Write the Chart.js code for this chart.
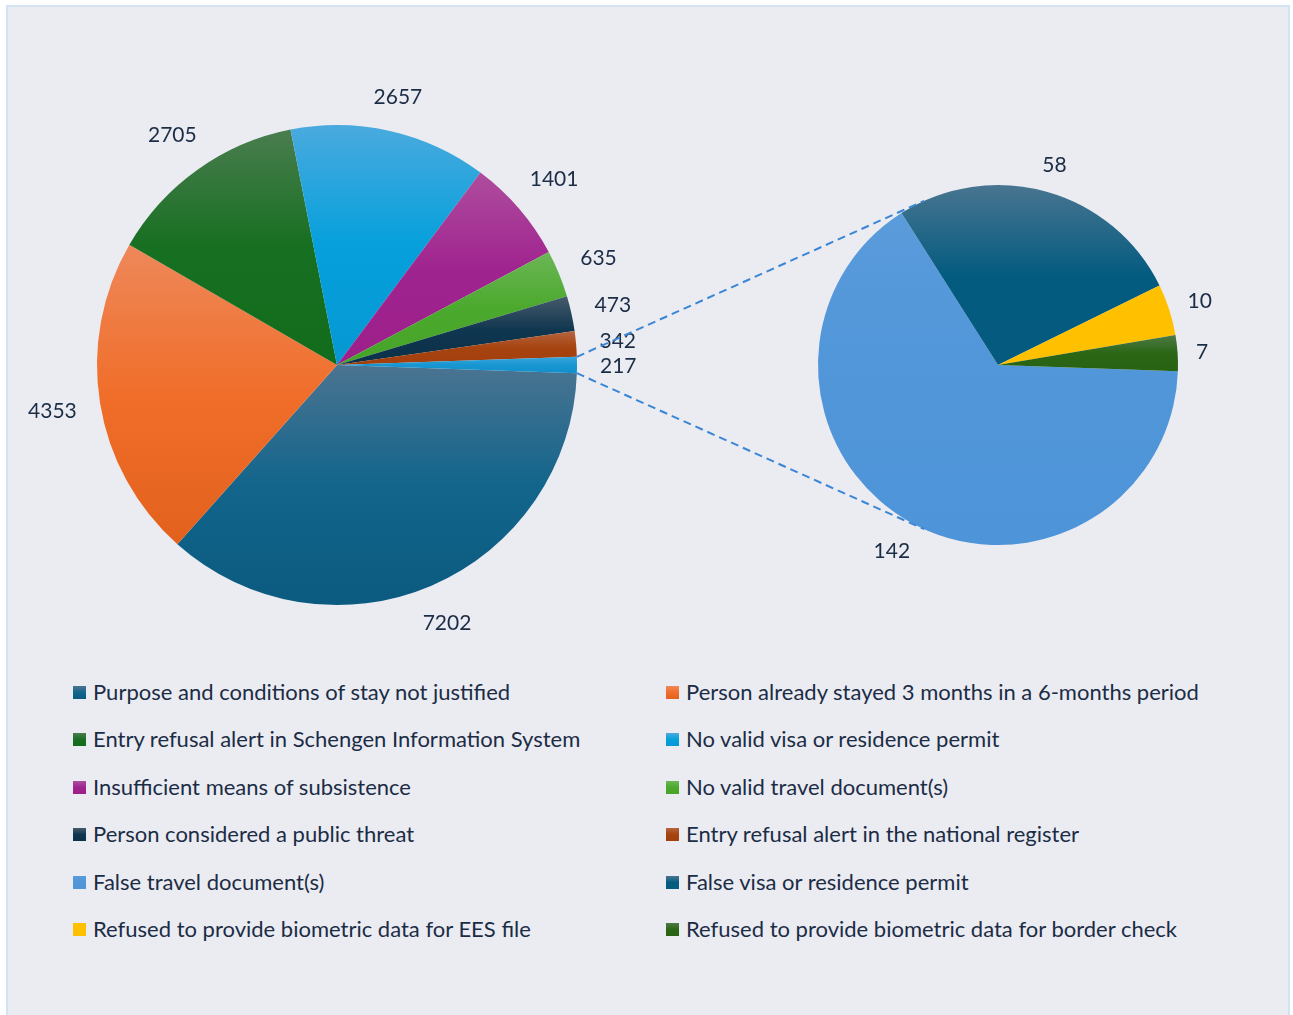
<!DOCTYPE html>
<html><head><meta charset="utf-8">
<script src="https://cdn.jsdelivr.net/npm/chart.js@4.4.1/dist/chart.umd.min.js"></script>
<style>
html,body{margin:0;padding:0;background:#ffffff;width:1293px;height:1015px;overflow:hidden;}
#frame{position:absolute;left:6px;top:5px;width:1284px;height:1010px;border:2px solid #d3e3f5;border-bottom:none;background:#EBEBF2;box-sizing:border-box;}
canvas{position:absolute;left:0;top:0;}
.leg{position:absolute;font-family:Lato,"Open Sans",sans-serif;font-size:22px;color:#1b2d45;white-space:nowrap;line-height:24px;height:24px;}
.leg i{position:absolute;left:0;top:6px;width:13px;height:13px;}
.leg span{position:absolute;top:0;}
</style></head>
<body>
<div id="frame"></div>
<canvas id="c1" width="1293" height="660"></canvas>
<canvas id="c2" width="1293" height="660"></canvas>
<div id="legend"></div>
<script>
// ---- data ----
const mainLabels = [
  'Purpose and conditions of stay not justified',
  'Person already stayed 3 months in a 6-months period',
  'Entry refusal alert in Schengen Information System',
  'No valid visa or residence permit',
  'Insufficient means of subsistence',
  'No valid travel document(s)',
  'Person considered a public threat',
  'Entry refusal alert in the national register',
  'Other'
];
const mainValues = [7202, 4353, 2705, 2657, 1401, 635, 473, 342, 217];
const subLabels = [
  'False travel document(s)',
  'False visa or residence permit',
  'Refused to provide biometric data for EES file',
  'Refused to provide biometric data for border check'
];
const subValues = [142, 58, 10, 7];

// ---- styles (gradient top / middle / bottom) ----
const mainColors = [
  ['#4b7491','#13658c','#0b5a7f'],
  ['#ee885a','#f06e2a','#e2611c'],
  ['#4a7d4f','#176f21','#136b1c'],
  ['#4aaade','#06a0dc','#0598d3'],
  ['#ae4d9e','#a0248f','#9c1f8a'],
  ['#6cb656','#4ba92d','#47a42a'],
  ['#465a6b','#0f364f','#0b3149'],
  ['#b5643f','#a6430f','#a23f0c'],
  ['#3aa6dc','#1796d2','#1290cc']
];
const subColors = [
  ['#5a9bdb','#5096d9','#4e94d8'],
  ['#487590','#045b80','#045a7f'],
  ['#ffc000','#ffc000','#ffc000'],
  ['#4e7a47','#2b6615','#286213']
];
const textColor = '#1b2d45';
const fontFamily = 'Lato, "Open Sans", sans-serif';

const rad = d => d * Math.PI / 180;

function sliceGradient(palette, rotationDeg) {
  return function (ctx) {
    const chart = ctx.chart, area = chart.chartArea;
    const p = palette[ctx.dataIndex];
    if (!area) return p[1];
    const vals = ctx.dataset.data;
    const total = vals.reduce((a, b) => a + b, 0);
    let start = rotationDeg - 90;
    for (let i = 0; i < ctx.dataIndex; i++) start += vals[i] / total * 360;
    const end = start + vals[ctx.dataIndex] / total * 360;
    const cy = (area.top + area.bottom) / 2;
    const r = Math.min(area.width, area.height) / 2;
    const ys = [cy, cy + r * Math.sin(rad(start)), cy + r * Math.sin(rad(end))];
    for (let k = -2; k <= 6; k++) {
      const a = 90 + 180 * k;
      if (a >= start && a <= end) ys.push(cy + r * Math.sin(rad(a)));
    }
    const minY = Math.min(...ys), maxY = Math.max(...ys);
    const g = chart.ctx.createLinearGradient(0, minY, 0, Math.max(maxY, minY + 1));
    g.addColorStop(0, p[0]);
    g.addColorStop(0.5, p[1]);
    g.addColorStop(1, p[2]);
    return g;
  };
}

const valueLabels = {
  id: 'valueLabels',
  afterDatasetsDraw(chart, args, opts) {
    const ctx = chart.ctx;
    const meta = chart.getDatasetMeta(0);
    const vals = chart.data.datasets[0].data;
    ctx.save();
    ctx.font = '21px ' + fontFamily;
    ctx.fillStyle = textColor;
    ctx.textAlign = 'center';
    ctx.textBaseline = 'middle';
    meta.data.forEach((arc, i) => {
      const pr = arc.getProps(['x', 'y', 'startAngle', 'endAngle', 'outerRadius'], true);
      const mid = (pr.startAngle + pr.endAngle) / 2;
      const txt = String(vals[i]);
      const w = ctx.measureText(txt).width, h = 15;
      const d = pr.outerRadius + opts.gap + Math.abs(Math.cos(mid)) * w / 2 + Math.abs(Math.sin(mid)) * h / 2;
      ctx.fillText(txt, pr.x + d * Math.cos(mid), pr.y + d * Math.sin(mid) + 1);
    });
    ctx.restore();
  }
};

const mainRotation = 90 + (mainValues[mainValues.length - 1] / mainValues.reduce((a, b) => a + b, 0) * 360) / 2;
const subRotation = 92;

const chart1 = new Chart(document.getElementById('c1'), {
  type: 'pie',
  data: {
    labels: mainLabels,
    datasets: [{ data: mainValues, backgroundColor: sliceGradient(mainColors, mainRotation), borderWidth: 0 }]
  },
  options: {
    responsive: false, animation: false, rotation: mainRotation,
    layout: { padding: { left: 97, right: 716, top: 125, bottom: 55 } },
    plugins: { legend: { display: false }, tooltip: { enabled: false }, valueLabels: { gap: 23 } }
  },
  plugins: [valueLabels]
});

const connector = {
  id: 'connector',
  afterDraw(chart) {
    const m1 = chart1.getDatasetMeta(0);
    const other = m1.data[m1.data.length - 1].getProps(['x', 'y', 'startAngle', 'endAngle', 'outerRadius'], true);
    const c2 = chart.getDatasetMeta(0).data[0].getProps(['x', 'y', 'outerRadius'], true);
    const ctx = chart.ctx;
    const pts = [other.startAngle, other.endAngle].map(a => [other.x + other.outerRadius * Math.cos(a), other.y + other.outerRadius * Math.sin(a)]);
    ctx.save();
    ctx.strokeStyle = '#3a86d6';
    ctx.lineWidth = 2;
    ctx.setLineDash([8, 5]);
    pts.forEach((P, idx) => {
      const dx = P[0] - c2.x, dy = P[1] - c2.y;
      const d = Math.hypot(dx, dy);
      const phi = Math.atan2(dy, dx);
      const th = Math.acos(c2.outerRadius / d);
      const cands = [phi + th, phi - th].map(a => [c2.x + c2.outerRadius * Math.cos(a), c2.y + c2.outerRadius * Math.sin(a)]);
      cands.sort((a, b) => a[1] - b[1]);
      const T = idx === 0 ? cands[0] : cands[1];
      ctx.beginPath();
      ctx.moveTo(P[0], P[1]);
      ctx.lineTo(T[0], T[1]);
      ctx.stroke();
    });
    ctx.restore();
  }
};

const chart2 = new Chart(document.getElementById('c2'), {
  type: 'pie',
  data: {
    labels: subLabels,
    datasets: [{ data: subValues, backgroundColor: sliceGradient(subColors, subRotation), borderWidth: 0 }]
  },
  options: {
    responsive: false, animation: false, rotation: subRotation,
    layout: { padding: { left: 818, right: 115, top: 185, bottom: 115 } },
    plugins: { legend: { display: false }, tooltip: { enabled: false }, valueLabels: { gap: 18 } }
  },
  plugins: [valueLabels, connector]
});
chart2.draw();

// ---- HTML legend built from the arrays ----
const legendNames = mainLabels.slice(0, mainLabels.length - 1).concat(subLabels);
const legendColors = mainColors.slice(0, mainColors.length - 1).concat(subColors);
const legendEl = document.getElementById('legend');
legendNames.forEach((name, i) => {
  const col = i % 2, row = Math.floor(i / 2);
  const div = document.createElement('div');
  div.className = 'leg';
  div.style.left = (col === 0 ? 73 : 666) + 'px';
  div.style.top = (692 + row * 47.4 - 12) + 'px';
  const c = legendColors[i];
  div.innerHTML = '<i style="background:linear-gradient(' + c[0] + ',' + c[1] + ' 50%,' + c[2] + ')"></i><span style="left:20px">' + name + '</span>';
  legendEl.appendChild(div);
});
</script>
</body></html>
